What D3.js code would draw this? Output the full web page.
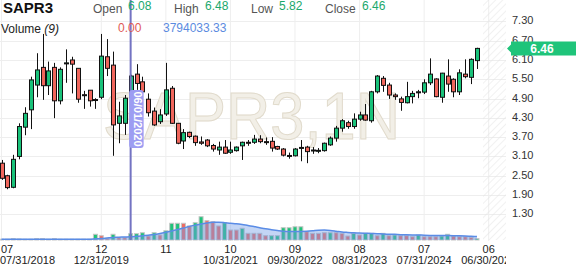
<!DOCTYPE html>
<html>
<head>
<meta charset="utf-8">
<script src="https://cdn.jsdelivr.net/npm/d3@7"></script>
<style>
  body { margin: 0; background: #fff; }
  text { font-family: "Liberation Sans", Arial, sans-serif; }
</style>
</head>
<body>
<div id="chart"></div>
<script>
// monthly candles, 07/2018 .. 04/2025
var opens  = [2.89,2.50,2.14,3.10,4.01,4.55,5.32,5.87,5.30,5.87,4.83,5.98,6.10,5.84,5.02,5.16,4.87,4.94,6.20,5.94,
              4.13,4.13,4.93,5.66,5.42,4.88,4.51,4.18,4.42,5.22,4.13,3.58,3.85,3.73,3.55,3.61,3.44,3.30,3.39,3.23,
              3.28,3.43,3.54,3.54,3.64,3.56,3.57,3.41,3.33,3.13,3.12,3.35,3.39,3.28,3.28,3.28,3.46,3.67,3.98,4.15,
              4.03,4.26,4.39,4.21,5.11,5.53,5.32,5.01,4.89,4.77,4.96,5.08,5.10,5.39,5.51,4.94,5.60,5.50,5.11,5.66,
              5.56,6.08];
var highs  = [2.99,2.53,3.15,4.13,4.63,5.58,6.31,6.91,6.05,6.01,5.87,6.43,6.20,5.84,5.14,5.16,4.91,6.91,6.75,6.36,
              4.80,5.01,5.64,5.97,5.58,5.06,4.62,4.57,6.01,5.29,4.13,3.95,3.87,3.75,3.72,3.64,3.49,3.56,3.61,3.56,
              3.41,3.56,3.61,3.77,3.76,3.69,3.70,3.43,3.36,3.22,3.36,3.61,3.43,3.39,3.36,3.53,3.72,4.05,4.26,4.21,
              4.44,4.49,4.73,5.14,5.63,5.60,5.39,5.06,4.96,5.42,5.14,5.17,5.50,6.15,5.53,5.70,6.12,5.53,5.81,6.12,
              6.15,6.48];
var lows   = [2.37,2.08,2.11,3.01,3.76,3.95,4.94,4.86,5.01,4.29,4.72,5.39,5.06,4.77,4.58,4.65,4.58,4.88,5.60,3.12,
              3.51,3.77,4.68,5.17,5.07,4.34,4.05,4.11,4.36,4.11,3.48,3.33,3.67,3.43,3.46,3.39,3.25,3.15,3.18,3.18,
              3.25,2.99,3.43,3.49,3.51,3.46,3.25,3.30,3.10,3.03,3.10,2.95,2.89,3.18,3.20,3.25,3.43,3.56,3.87,3.96,
              3.96,4.21,4.21,4.15,5.06,5.11,4.89,4.86,4.52,4.75,4.75,4.91,5.04,5.32,4.94,4.77,5.11,4.94,5.01,5.53,
              5.35,5.82];
var closes = [2.42,2.13,3.01,4.03,4.44,5.48,5.79,5.30,5.76,4.83,5.81,6.01,5.97,4.88,5.00,4.83,4.85,6.22,5.84,4.08,
              4.36,4.91,5.60,5.37,5.11,4.46,4.08,4.39,5.17,4.13,3.51,3.84,3.72,3.53,3.51,3.43,3.33,3.39,3.20,3.30,
              3.39,3.54,3.53,3.64,3.56,3.54,3.36,3.33,3.14,3.11,3.33,3.38,3.25,3.30,3.29,3.51,3.67,3.98,4.21,4.03,
              4.26,4.39,4.23,5.11,5.60,5.31,5.01,4.96,4.78,4.96,5.06,5.11,5.39,5.66,4.96,5.69,5.35,5.11,5.70,5.58,
              6.12,6.46];

// volume in millions and its 9 period average
var volumes = [0.9,0.9,1.7,1.2,0.9,0.9,1.7,1.7,0.9,1.7,0.9,0.9,0.9,0.9,0.9,0.9,6.6,5.0,2.0,6.6,
               2.7,2.7,7.3,7.3,8.4,4.6,8.4,5.8,10.7,19.3,19.3,19.3,16.2,20.0,26.9,22.3,21.1,16.2,20.0,11.5,
               11.5,13.5,7.7,7.7,7.7,5.0,5.0,5.0,14.2,14.2,15.3,15.3,9.6,7.7,7.7,8.4,8.4,8.4,7.7,4.6,
               7.7,5.8,7.7,7.7,5.0,7.7,5.0,5.8,5.0,5.0,3.8,5.8,3.8,3.8,3.8,4.6,6.6,4.6,3.8,3.8,
               3.1,1.7];
var volumeUp = [0,0,1,1,1,1,1,0,1,0,1,1,0,0,1,0,1,0,0,1,
                0,0,1,1,1,0,1,0,1,1,1,0,0,1,1,0,0,0,1,0,
                0,1,0,0,0,0,1,1,1,1,1,1,0,0,0,0,1,0,0,0,
                1,0,1,1,0,1,0,1,0,0,0,1,0,0,0,1,1,0,0,0,
                0,1];
var volumeMA = [0.9,0.9,0.9,0.9,0.9,0.9,0.9,0.9,0.9,0.9,0.9,0.9,0.9,0.9,0.9,0.9,1.4,1.7,2.3,2.9,
                3.2,3.5,3.8,4.3,4.8,5.5,6.3,7.5,8.9,10.4,12.1,13.8,15.6,17.1,18.5,19.6,20.4,20.4,20.0,19.3,
                18.8,17.9,16.7,15.6,14.2,12.9,11.9,11.0,10.2,9.8,9.7,9.9,10.2,10.7,11.3,11.5,11.1,10.2,9.2,8.7,
                8.3,8.1,7.8,7.5,7.3,6.9,6.7,6.5,6.2,6.0,5.9,5.8,5.5,5.3,5.2,5.1,5.1,5.0,4.8,4.6,
                4.3,3.9];

// axis labels
var labelIndex  = [0, 17, 28, 39, 50, 61, 72, 83];
var monthLabels = ["07", "12", "11", "10", "09", "08", "07", "06"];
var dateLabels  = ["07/31/2018", "12/31/2019", "", "10/31/2021", "09/30/2022", "08/31/2023", "07/31/2024", "06/30/2025"];
var priceTicks  = [1.30, 1.90, 2.50, 3.10, 3.70, 4.30, 4.90, 5.50, 6.10, 6.70, 7.30];

// crosshair readout
var crossIndex = 22;
var crossDate = "06/01/2020";
var crossVolume = "0.00";
var crossMA = "3794033.33";

var svgWidth = 576;
var svgHeight = 268;
var plotRight = 506;

var svg = d3.select("#chart")
  .append("svg")
  .attr("width", svgWidth)
  .attr("height", svgHeight)
  .style("display", "block");

var data = closes.map(function(c, i) {
  return { i: i, open: opens[i], high: highs[i], low: lows[i], close: c,
           vol: volumes[i], up: volumeUp[i], ma: volumeMA[i] };
});

// Step 1: scales
var xScale = d3.scaleLinear().domain([0, 83]).range([1.5, 488.7]);
var yScale = d3.scaleLinear().domain([1.3, 7.3]).range([214.3, 21.4]);
var volScale = d3.scaleLinear().domain([0, 30]).range([240, 214]);

var defs = svg.append("defs");
defs.append("clipPath").attr("id", "plotClip")
  .append("rect").attr("x", 0).attr("y", 0).attr("width", plotRight).attr("height", svgHeight);
var hatch = defs.append("pattern")
  .attr("id", "hatch")
  .attr("patternUnits", "userSpaceOnUse")
  .attr("width", 5).attr("height", 5)
  .attr("patternTransform", "rotate(45)");
hatch.append("line")
  .attr("x1", 0).attr("y1", 0).attr("x2", 0).attr("y2", 5)
  .attr("stroke", "#e4e4e4").attr("stroke-width", 1);

var plot = svg.append("g").attr("clip-path", "url(#plotClip)");

// Step 2: grid
plot.append("g").selectAll("line")
  .data(priceTicks)
  .enter()
  .append("line")
  .attr("x1", 0).attr("x2", plotRight)
  .attr("y1", d => Math.round(yScale(d)) + 0.5)
  .attr("y2", d => Math.round(yScale(d)) + 0.5)
  .attr("stroke", "#eeeeee");

plot.append("g").selectAll("line")
  .data(labelIndex)
  .enter()
  .append("line")
  .attr("x1", d => xScale(d)).attr("x2", d => xScale(d))
  .attr("y1", 0).attr("y2", 241)
  .attr("stroke", "#eeeeee");

// watermark
plot.append("text")
  .attr("x", 103)
  .attr("y", 139)
  .attr("textLength", 297)
  .attr("lengthAdjust", "spacingAndGlyphs")
  .attr("font-size", 66)
  .attr("fill", "#f2efe7")
  .attr("stroke", "#e0dacb")
  .attr("stroke-width", 1)
  .text("SAPR3,1N");

// Step 3: volume bars and average
var volGroup = plot.append("g");
volGroup.selectAll("rect")
  .data(data)
  .enter()
  .append("rect")
  .attr("x", d => xScale(d.i) - 2)
  .attr("y", d => volScale(d.vol))
  .attr("width", 4)
  .attr("height", d => volScale(0) - volScale(d.vol))
  .attr("fill", d => d.up ? "#1fc27a" : "#ee6b62")
  .attr("stroke", "#c6c6c6")
  .attr("stroke-width", 1);

var maArea = d3.area()
  .x(d => xScale(d.i))
  .y0(volScale(0))
  .y1(d => volScale(d.ma))
  .curve(d3.curveMonotoneX);
var maLine = d3.line()
  .x(d => xScale(d.i))
  .y(d => volScale(d.ma))
  .curve(d3.curveMonotoneX);

volGroup.append("path")
  .datum(data)
  .attr("d", maArea)
  .attr("fill", "#6f9ae8")
  .attr("fill-opacity", 0.42);
volGroup.append("path")
  .datum(data)
  .attr("d", maLine)
  .attr("fill", "none")
  .attr("stroke", "#5a8ce6")
  .attr("stroke-width", 1.5);

// Step 4: candles
var candles = plot.append("g").selectAll("g")
  .data(data)
  .enter()
  .append("g");

candles.append("line")
  .attr("x1", d => Math.round(xScale(d.i)) + 0.5)
  .attr("x2", d => Math.round(xScale(d.i)) + 0.5)
  .attr("y1", d => yScale(d.high))
  .attr("y2", d => yScale(d.low))
  .attr("stroke", "#111")
  .attr("stroke-width", 1);

candles.append("rect")
  .attr("x", d => Math.round(xScale(d.i)) - 1.5)
  .attr("y", d => yScale(Math.max(d.open, d.close)))
  .attr("width", 4)
  .attr("height", d => Math.max(1, Math.abs(yScale(d.open) - yScale(d.close))))
  .attr("fill", d => d.close >= d.open ? "#19c27a" : "#f0665c")
  .attr("stroke", "#111")
  .attr("stroke-width", 1);

// hatched future area
plot.append("rect")
  .attr("x", 483).attr("y", 0)
  .attr("width", plotRight - 483).attr("height", 240)
  .attr("fill", "url(#hatch)");

// Step 5: x axis labels (two rows)
var xLabels = plot.append("g")
  .attr("font-size", 11)
  .attr("fill", "#222");
xLabels.selectAll(".month")
  .data(labelIndex)
  .enter()
  .append("text")
  .attr("x", (d, i) => i === 0 ? 1 : xScale(d))
  .attr("y", 253)
  .attr("text-anchor", (d, i) => i === 0 ? "start" : "middle")
  .text((d, i) => monthLabels[i]);
xLabels.selectAll(".date")
  .data(labelIndex)
  .enter()
  .append("text")
  .attr("x", (d, i) => i === 0 ? 0 : xScale(d))
  .attr("y", 264)
  .attr("text-anchor", (d, i) => i === 0 ? "start" : "middle")
  .text((d, i) => dateLabels[i]);

// Step 6: price axis
var rightAxis = d3.axisRight(yScale)
  .tickValues(priceTicks)
  .tickFormat(d3.format(".2f"))
  .tickSize(0)
  .tickPadding(6);
var axisG = svg.append("g")
  .attr("transform", `translate(${plotRight}, -1)`)
  .call(rightAxis);
axisG.select(".domain").remove();
axisG.selectAll("text")
  .attr("font-family", "Liberation Sans, Arial, sans-serif")
  .attr("font-size", 11)
  .attr("fill", "#333");

// last price tag
var lastClose = closes[closes.length - 1];
var tagY = yScale(lastClose);
svg.append("path")
  .attr("d", `M507,${tagY} L511,${tagY - 4} L511,${tagY - 7} L576,${tagY - 7} L576,${tagY + 7} L511,${tagY + 7} L511,${tagY + 4} Z`)
  .attr("fill", "#1fc47a");
svg.append("text")
  .attr("x", 542)
  .attr("y", tagY + 4.5)
  .attr("text-anchor", "middle")
  .attr("font-size", 12)
  .attr("font-weight", "bold")
  .attr("fill", "#fff")
  .text(lastClose.toFixed(2));

// Step 7: crosshair
var cx = xScale(crossIndex);
svg.append("line")
  .attr("x1", cx).attr("x2", cx)
  .attr("y1", 0).attr("y2", 240)
  .attr("stroke", "#7373c2")
  .attr("stroke-width", 2);
svg.append("rect")
  .attr("x", cx - 1.5).attr("y", 90)
  .attr("width", 14.5).attr("height", 58)
  .attr("rx", 3)
  .attr("fill", "#9d9df2");
svg.append("text")
  .attr("transform", `translate(${cx + 3}, 119) rotate(90)`)
  .attr("text-anchor", "middle")
  .attr("font-size", 11)
  .attr("font-weight", "bold")
  .attr("fill", "#fff")
  .text(crossDate);

// Step 8: header legend
var last = data[data.length - 1];
svg.append("text")
  .attr("x", 3).attr("y", 13)
  .attr("font-size", 15).attr("font-weight", "bold").attr("fill", "#111")
  .text("SAPR3");

var legendItems = [
  { label: "Open", lx: 93, value: last.open, vx: 128 },
  { label: "High", lx: 174, value: last.high, vx: 205 },
  { label: "Low", lx: 251, value: last.low, vx: 279 },
  { label: "Close", lx: 325, value: last.close, vx: 362 }
];
legendItems.forEach(function(item) {
  svg.append("text")
    .attr("x", item.lx).attr("y", 13)
    .attr("font-size", 12).attr("fill", "#555")
    .text(item.label);
  svg.append("text")
    .attr("x", item.vx).attr("y", 9.5)
    .attr("font-size", 12).attr("fill", "#1aa86c")
    .text(item.value.toFixed(2));
});

var volTitle = svg.append("text")
  .attr("x", 1).attr("y", 33)
  .attr("font-size", 12).attr("fill", "#222");
volTitle.append("tspan").text("Volume ");
volTitle.append("tspan").attr("font-style", "italic").text("(9)");

svg.append("text")
  .attr("x", 118).attr("y", 31.5)
  .attr("font-size", 12).attr("fill", "#e05a55")
  .text(crossVolume);
svg.append("text")
  .attr("x", 163).attr("y", 31.5)
  .attr("font-size", 12).attr("fill", "#5b8be0")
  .text(crossMA);
</script>
</body>
</html>
